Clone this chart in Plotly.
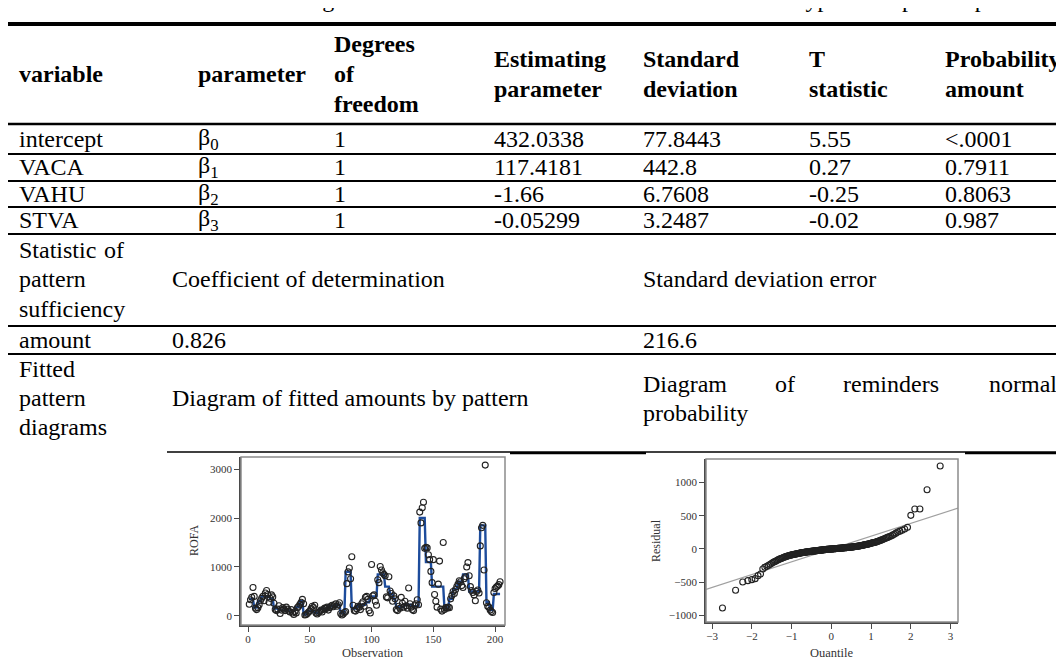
import plotly.graph_objects as go
from statistics import NormalDist

W, H = 1064, 657
FONT = "Liberation Serif"
FS = 24

# ---------------- table content ----------------
caption = "Table 6: Results of the regression model fitted for the data of the research hypothesis pattern parameters"
header_cells = [["variable"], ["parameter"], ["Degrees", "of", "freedom"],
                ["Estimating", "parameter"], ["Standard", "deviation"],
                ["T", "statistic"], ["Probability", "amount"]]
variables = ["intercept", "VACA", "VAHU", "STVA"]
parameters = ["β<sub>0</sub>", "β<sub>1</sub>", "β<sub>2</sub>", "β<sub>3</sub>"]
dof = ["1", "1", "1", "1"]
estimates = ["432.0338", "117.4181", "-1.66", "-0.05299"]
std_devs = ["77.8443", "442.8", "6.7608", "3.2487"]
t_stats = ["5.55", "0.27", "-0.25", "-0.02"]
probs = ["&lt;.0001", "0.7911", "0.8063", "0.987"]
stat_label = ["pattern", "sufficiency"]
stat_names = ["Coefficient of determination", "Standard deviation error"]
stat_values = ["0.826", "216.6"]
fit_label = ["Fitted", "pattern", "diagrams"]
diagram_left = "Diagram of fitted amounts by pattern"
diagram_right_words = ["Diagram", "of", "reminders", "normal"]
diagram_right_line2 = "probability"

# ---------------- chart data ----------------
obs_rofa = [240, 330, 380, 580, 400, 160, 130, 170, 230, 310,
            360, 400, 310, 470, 520, 440, 280, 360, 430, 390,
            260, 130, 110, 140, 210, 50, 120, 170, 140, 110,
            180, 140, 100, 80, 130, 60, 30, 90, 60, 170,
            200, 240, 280, 340, 250, 20, 30, 50, 80, 100,
            150, 200, 170, 220, 60, 40, 70, 90, 120, 80,
            130, 160, 150, 180, 120, 170, 200, 220, 190, 230,
            250, 200, 230, 270, 50, 20, 40, 70, 90, 660,
            900, 980, 760, 1210, 220, 110, 100, 150, 200, 180,
            130, 250, 290, 200, 380, 400, 340, 110, 60, 1050,
            410, 430, 300, 220, 740, 680, 1010, 940, 880, 850,
            820, 390, 370, 800, 510, 460, 300, 410, 350, 130,
            110, 200, 160, 380, 260, 180, 300, 210, 160, 570,
            250, 180, 130, 110, 210, 250, 330, 230, 2120, 1900,
            2210, 2320, 1380, 1400, 1390, 1250, 1150, 910, 680, 1150,
            440, 300, 180, 650, 1120, 140, 100, 1500, 130, 170,
            160, 180, 170, 350, 420, 500, 460, 540, 600, 650,
            720, 700, 620, 580, 760, 800, 1000, 1090, 820, 600,
            520, 480, 430, 310, 500, 530, 470, 1430, 1800, 1850,
            940, 3080, 270, 200, 180, 120, 90, 70, 480, 560,
            590, 610, 640, 700]
fitted_rofa = [350, 350, 350, 350, 170, 170, 170, 300, 300, 300,
               400, 400, 400, 400, 400, 400, 400, 350, 350, 350,
               150, 150, 150, 150, 120, 120, 120, 120, 120, 120,
               110, 110, 110, 110, 110, 110, 110, 110, 180, 180,
               180, 300, 300, 300, 30, 30, 30, 100, 100, 100,
               100, 100, 100, 60, 60, 60, 60, 150, 150, 150,
               150, 150, 150, 150, 200, 200, 200, 200, 200, 200,
               230, 230, 230, 230, 60, 60, 60, 60, 900, 900,
               900, 900, 900, 150, 150, 150, 150, 150, 230, 230,
               230, 230, 230, 230, 230, 280, 280, 280, 400, 400,
               400, 400, 400, 400, 850, 850, 850, 850, 850, 850,
               600, 600, 600, 600, 450, 450, 450, 350, 350, 180,
               180, 180, 180, 180, 180, 180, 230, 230, 230, 230,
               230, 230, 200, 200, 200, 200, 200, 200, 2000, 2000,
               2000, 2000, 2000, 1100, 1100, 1100, 1100, 1100, 600, 600,
               600, 600, 600, 600, 600, 600, 600, 600, 150, 150,
               150, 150, 350, 350, 350, 550, 550, 550, 550, 700,
               700, 700, 700, 850, 850, 850, 850, 850, 500, 500,
               500, 500, 500, 500, 500, 500, 500, 1850, 1850, 1850,
               1850, 1850, 280, 280, 280, 120, 120, 120, 450, 450,
               450, 450, 450, 450]
observation = list(range(1, len(obs_rofa) + 1))

residuals_sorted = [-886, -620, -495, -475, -460, -445, -400, -375, -300, -275,
                    -260, -245, -230, -215, -200, -190, -180, -170, -160, -150,
                    -145, -138, -131, -125, -120, -115, -110, -105,
                    -101, -97, -94, -91, -88, -85, -82, -80, -78, -75,
                    -73, -71, -69, -67, -64, -62, -60, -58, -57, -55, -53, -52,
                    -50, -49, -47, -46, -45, -43, -42, -41, -40, -39, -38, -36, -35,
                    -34, -33, -32, -31, -30, -29, -28, -27, -26, -25, -24, -23, -22, -21, -20,
                    -19, -18, -17, -16, -15, -14, -13, -13, -12, -11, -10, -9, -8, -7, -6, -6,
                    -5, -4, -3, -3, -2, -1, -1, 0, 0, 1, 1, 2, 3, 4, 4, 5,
                    6, 6, 7, 8, 8, 9, 10, 10, 11, 12, 12, 13, 14, 14, 15, 16,
                    17, 17, 18, 19, 20, 20, 21, 22, 23, 24, 24, 25, 26, 27, 28,
                    29, 30, 31, 32, 33, 34, 36, 37, 38, 40, 41, 42, 44, 45,
                    47, 49, 51, 53, 55, 57, 60, 62, 64, 66, 68, 70,
                    73, 76, 79, 82, 85, 89, 92, 95, 98, 100,
                    105, 110, 115, 120, 127, 133, 139, 145, 153, 161, 170,
                    178, 186, 195, 208, 222, 238, 255, 268, 282, 300, 325,
                    505, 600, 600, 890, 1246]
ref_intercept = 0
ref_slope = 192
x_ticks_fit = [0, 50, 100, 150, 200]
y_ticks_fit = [0, 1000, 2000, 3000]
x_ticks_qq = [-3, -2, -1, 0, 1, 2, 3]
y_ticks_qq = [-1000, -500, 0, 500, 1000]

n = len(residuals_sorted)
nd = NormalDist()
quantiles = [nd.inv_cdf((i - 0.375) / (n + 0.25)) for i in range(1, n + 1)]

# ---------------- figure ----------------
fig = go.Figure()

fig.add_trace(go.Scatter(x=observation, y=fitted_rofa, mode="lines",
                         line=dict(color="#1d4c9c", width=2.4),
                         xaxis="x", yaxis="y", hoverinfo="skip"))
fig.add_trace(go.Scatter(x=observation, y=obs_rofa, mode="markers",
                         marker=dict(symbol="circle-open", size=6, color="#222222",
                                     line=dict(width=1.1, color="#222222")),
                         xaxis="x", yaxis="y", hoverinfo="skip"))

qx = [-3.156, 3.19]
fig.add_trace(go.Scatter(x=qx, y=[ref_intercept + ref_slope * v for v in qx], mode="lines",
                         line=dict(color="#a0a0a0", width=1.3),
                         xaxis="x2", yaxis="y2", hoverinfo="skip"))
fig.add_trace(go.Scatter(x=quantiles, y=residuals_sorted, mode="markers",
                         marker=dict(symbol="circle-open", size=6, color="#222222",
                                     line=dict(width=1.1, color="#222222")),
                         xaxis="x2", yaxis="y2", hoverinfo="skip"))

axis_common = dict(showgrid=False, zeroline=False, showline=True, linecolor="#4a4a4a",
                   linewidth=1.5, ticks="outside", ticklen=5, tickwidth=1.2,
                   tickcolor="#4a4a4a", mirror=False,
                   tickfont=dict(family=FONT, size=11, color="#333333"))

fig.update_layout(
    width=W, height=H, margin=dict(l=0, r=0, t=0, b=0),
    paper_bgcolor="white", plot_bgcolor="white", showlegend=False,
    xaxis=dict(domain=[233 / W, 497 / W], range=[-5.7, 208], anchor="y",
               tickvals=x_ticks_fit, ticklabelstandoff=-2, **axis_common),
    yaxis=dict(domain=[1 - 617 / H, 1 - 449 / H], range=[-184, 3245], anchor="x",
               tickvals=y_ticks_fit, **axis_common),
    xaxis2=dict(domain=[698 / W, 950 / W], range=[-3.156, 3.19], anchor="y2",
                tickvals=x_ticks_qq, ticklabelstandoff=-2, **axis_common),
    yaxis2=dict(domain=[1 - 614 / H, 1 - 451 / H], range=[-1096, 1351], anchor="x2",
                tickvals=y_ticks_qq, **axis_common),
)

shapes = []
for xr, yr in (("x", "y"), ("x2", "y2")):
    shapes.append(dict(type="rect", xref=f"{xr} domain", yref=f"{yr} domain",
                       x0=0, x1=1, y0=0, y1=1, line=dict(color="#8c8c8c", width=1.5)))


def hline(py, x0, x1, w):
    shapes.append(dict(type="line", xref="paper", yref="paper",
                       x0=x0 / W, x1=x1 / W, y0=1 - py / H, y1=1 - py / H,
                       line=dict(color="black", width=w)))


hline(16, 0, W, 4)
hline(116, 0, W, 2.5)
for py in (146, 173, 199, 226, 318, 346):
    hline(py, 0, W, 2)
hline(444.8, 502, 638, 3)
hline(444.8, 957, W, 3)
hline(444, 159, 502, 1.3)
hline(444, 638, 957, 1.3)

annotations = []


def txt(s, px, py, size=FS, bold=False, anchor="left", angle=0, color="black"):
    annotations.append(dict(text=f"<b>{s}</b>" if bold else s, x=px / W, y=1 - py / H,
                            xref="paper", yref="paper", xanchor=anchor, yanchor="middle",
                            showarrow=False, textangle=angle, borderpad=0,
                            font=dict(family=FONT, size=size, color=color)))


# caption line above the table, mostly outside the picture
txt(caption, 73, -9, size=24, anchor="left")

col_x = [10, 189, 325, 485, 634, 800, 936]
for cx, cell in zip(col_x, header_cells):
    k = len(cell)
    ys = {1: [66], 2: [51, 81], 3: [36, 66, 96]}[k]
    for line, yy in zip(cell, ys):
        txt(line, cx, yy, bold=True)

row_y = [131, 159, 186, 212]
for i, yy in enumerate(row_y):
    for cx, col in zip(col_x, [variables, parameters, dof, estimates, std_devs, t_stats, probs]):
        txt(col[i], cx, yy)

txt("Statistic", 10, 242)
txt("of", 117, 242, anchor="right")
for line, yy in zip(stat_label, [271, 301]):
    txt(line, 10, yy)
txt(stat_names[0], 163, 271)
txt(stat_names[1], 634, 271)
txt("amount", 10, 332)
txt(stat_values[0], 163, 332)
txt(stat_values[1], 634, 332)
for line, yy in zip(fit_label, [361, 390, 419]):
    txt(line, 10, yy)
txt(diagram_left, 163, 390)
for word, wx in zip(diagram_right_words, [634, 766, 834, 980]):
    txt(word, wx, 376)
txt(diagram_right_line2, 634, 405)

txt("ROFA", 186, 533, size=12, angle=-90, color="#333333", anchor="center")
txt("Observation", 365, 645, size=12.5, color="#333333", anchor="center")
txt("Residual", 648, 533, size=12, angle=-90, color="#333333", anchor="center")
txt("Quantile", 823, 645, size=12.5, color="#333333", anchor="center")

fig.update_layout(shapes=shapes, annotations=annotations)
fig.write_html("out.html", config={"displayModeBar": False})
